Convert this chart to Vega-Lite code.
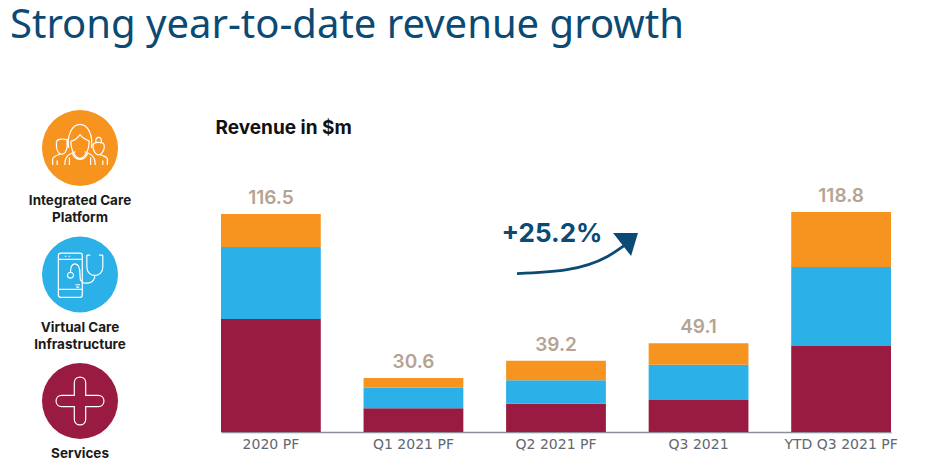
{
  "$schema": "https://vega.github.io/schema/vega-lite/v6.json",
  "padding": {"left": 0, "top": 5, "right": 0, "bottom": 0},
  "background": "white",
  "title": {"text": "Strong year-to-date revenue growth", "anchor": "start", "frame": "group", "dx": 10, "font": "Noto Sans", "fontSize": 40, "fontWeight": "normal", "color": "#0b4a75", "offset": 64},
  "config": {"view": {"stroke": null}, "concat": {"spacing": 55}},
  "datasets": {
    "revenue": [
      {"period": "2020 PF", "segment": "Services", "rank": 1, "value": 60.4, "total": 116.5},
      {"period": "2020 PF", "segment": "Virtual Care Infrastructure", "rank": 2, "value": 38.5, "total": 116.5},
      {"period": "2020 PF", "segment": "Integrated Care Platform", "rank": 3, "value": 17.6, "total": 116.5},
      {"period": "Q1 2021 PF", "segment": "Services", "rank": 1, "value": 12.7, "total": 30.6},
      {"period": "Q1 2021 PF", "segment": "Virtual Care Infrastructure", "rank": 2, "value": 11.0, "total": 30.6},
      {"period": "Q1 2021 PF", "segment": "Integrated Care Platform", "rank": 3, "value": 5.2, "total": 30.6},
      {"period": "Q2 2021 PF", "segment": "Services", "rank": 1, "value": 15.1, "total": 39.2},
      {"period": "Q2 2021 PF", "segment": "Virtual Care Infrastructure", "rank": 2, "value": 12.5, "total": 39.2},
      {"period": "Q2 2021 PF", "segment": "Integrated Care Platform", "rank": 3, "value": 10.5, "total": 39.2},
      {"period": "Q3 2021", "segment": "Services", "rank": 1, "value": 17.1, "total": 49.1},
      {"period": "Q3 2021", "segment": "Virtual Care Infrastructure", "rank": 2, "value": 18.9, "total": 49.1},
      {"period": "Q3 2021", "segment": "Integrated Care Platform", "rank": 3, "value": 11.4, "total": 49.1},
      {"period": "YTD Q3 2021 PF", "segment": "Services", "rank": 1, "value": 46.0, "total": 118.8},
      {"period": "YTD Q3 2021 PF", "segment": "Virtual Care Infrastructure", "rank": 2, "value": 42.2, "total": 118.8},
      {"period": "YTD Q3 2021 PF", "segment": "Integrated Care Platform", "rank": 3, "value": 29.4, "total": 118.8}
    ],
    "growth": [
      {"pos": 2.209, "level": 84.7},
      {"pos": 2.582, "level": 86.8},
      {"pos": 2.881, "level": 93.7},
      {"pos": 3.037, "level": 101.1}
    ],
    "growthHead": [{"pos": 3.03, "level": 102.1}],
    "growthLabel": [{"pos": 2.47, "level": 105.9, "label": "+25.2%"}],
    "segments": [
      {"segment": "Integrated Care Platform", "label": "Integrated Care\nPlatform"},
      {"segment": "Virtual Care Infrastructure", "label": "Virtual Care\nInfrastructure"},
      {"segment": "Services", "label": "Services"}
    ]
  },
  "hconcat": [
    {
      "width": 160,
      "height": 315,
      "data": {"name": "segments"},
      "encoding": {
        "y": {"field": "segment", "type": "nominal", "sort": null, "axis": null, "scale": {"type": "point", "padding": 0.245, "domain": ["Integrated Care Platform", "Virtual Care Infrastructure", "Services"]}}
      },
      "layer": [
        {
          "mark": {"type": "point", "shape": "circle", "filled": true, "opacity": 1, "size": 5776},
          "encoding": {
            "color": {"field": "segment", "type": "nominal", "legend": null, "scale": {"domain": ["Integrated Care Platform", "Virtual Care Infrastructure", "Services"], "range": ["#f79420", "#2cb0e8", "#9a1b41"]}}
          }
        },
        {
          "mark": {"type": "point", "filled": false, "opacity": 1, "size": 5776, "stroke": "white", "strokeWidth": 1.2},
          "encoding": {
            "shape": {"field": "segment", "type": "nominal", "legend": null, "scale": {
              "domain": ["Integrated Care Platform", "Virtual Care Infrastructure", "Services"],
              "range": [
                "M-0.3 0 C-0.35 -0.35 -0.2 -0.62 0 -0.62 C0.2 -0.62 0.35 -0.35 0.3 0 M-0.24 -0.18 C-0.1 -0.2 -0.05 -0.3 0 -0.35 C0.05 -0.28 0.15 -0.22 0.24 -0.18 C0.24 0.1 0.1 0.27 0 0.27 C-0.1 0.27 -0.24 0.1 -0.24 -0.18 M-0.4 0.45 C-0.4 0.2 -0.3 0.17 -0.12 0.1 M0.12 0.1 C0.3 0.17 0.4 0.2 0.4 0.45 M-0.2 0.15 C-0.1 0.35 0.1 0.35 0.2 0.15 M-0.62 -0.15 C-0.62 -0.22 -0.5 -0.26 -0.34 -0.22 L-0.34 -0.02 C-0.36 0.1 -0.42 0.16 -0.48 0.16 C-0.55 0.16 -0.6 0.1 -0.62 -0.02 Z M-0.72 0.45 L-0.72 0.3 C-0.72 0.22 -0.62 0.2 -0.52 0.16 M-0.6 0.33 L-0.6 0.45 M-0.28 0.25 L-0.28 0.45 M0.34 -0.05 C0.34 -0.18 0.64 -0.18 0.64 -0.05 C0.64 0.1 0.55 0.18 0.49 0.18 C0.43 0.18 0.34 0.1 0.34 -0.05 Z M0.42 -0.15 C0.38 -0.32 0.6 -0.32 0.56 -0.15 M0.72 0.45 L0.72 0.3 C0.72 0.22 0.62 0.22 0.54 0.18 M0.6 0.33 L0.6 0.45 M0.28 0.25 L0.28 0.45",
                "M-0.5 -0.56 L0 -0.56 C0.04 -0.56 0.06 -0.54 0.06 -0.5 L0.06 0.54 C0.06 0.58 0.04 0.6 0 0.6 L-0.5 0.6 C-0.54 0.6 -0.57 0.58 -0.57 0.54 L-0.57 -0.5 C-0.57 -0.54 -0.54 -0.56 -0.5 -0.56 Z M-0.57 -0.4 L0.06 -0.4 M-0.57 0.39 L0.06 0.39 M-0.4 -0.48 L-0.36 -0.48 M-0.3 -0.48 L-0.26 -0.48 M-0.12 0.27 L0 0.27 M-0.1 0.33 L-0.02 0.33 M0.18 -0.51 L0.18 -0.2 C0.18 0.1 0.6 0.1 0.6 -0.2 L0.6 -0.51 M0.18 -0.51 L0.27 -0.51 M0.6 -0.51 L0.5 -0.51 M0.39 0.02 C0.39 0.2 0.25 0.24 0.1 0.22 C0 0.2 0 0.1 0 0 C0 -0.15 -0.03 -0.28 -0.13 -0.28 C-0.22 -0.28 -0.25 -0.18 -0.25 -0.06 M-0.33 0.02 C-0.33 -0.08 -0.17 -0.08 -0.17 0.02 C-0.17 0.12 -0.33 0.12 -0.33 0.02 Z",
                "M-0.15 -0.48 C-0.15 -0.68 0.15 -0.68 0.15 -0.48 L0.15 -0.15 L0.48 -0.15 C0.68 -0.15 0.68 0.15 0.48 0.15 L0.15 0.15 L0.15 0.48 C0.15 0.68 -0.15 0.68 -0.15 0.48 L-0.15 0.15 L-0.48 0.15 C-0.68 0.15 -0.68 -0.15 -0.48 -0.15 L-0.15 -0.15 Z"
              ]
            }}
          }
        },
        {
          "mark": {"type": "text", "lineBreak": "\n", "baseline": "top", "align": "center", "dy": 46, "font": "Inter", "fontWeight": "bold", "fontSize": 13.5, "lineHeight": 17, "color": "#1a1a1a"},
          "encoding": {"text": {"field": "label", "type": "nominal"}}
        }
      ]
    },
    {
      "width": 670,
      "height": 315,
      "layer": [
        {
          "data": {"name": "revenue"},
          "mark": {"type": "bar", "stroke": null},
          "encoding": {
            "x": {"field": "period", "type": "nominal", "sort": null, "title": null, "scale": {"type": "band", "paddingInner": 0.3, "paddingOuter": 0},
              "axis": {"labelAngle": 0, "labelFont": "DejaVu Sans", "labelFontSize": 14, "labelColor": "#626770", "labelLimit": 200, "labelPadding": 5, "ticks": false, "domain": true, "domainColor": "#8b8f9b", "domainWidth": 1.5, "grid": false}},
            "y": {"field": "value", "type": "quantitative", "stack": "zero", "scale": {"domain": [0, 168.4], "nice": false},
              "axis": {"domain": false, "ticks": false, "labels": false, "grid": false, "title": "Revenue in $m", "titleAngle": 0, "titleAlign": "left", "titleBaseline": "middle", "titleX": -6, "titleY": 10, "titleFont": "Inter", "titleFontSize": 19, "titleFontWeight": "bold", "titleColor": "#111111"}},
            "color": {"field": "segment", "type": "nominal", "legend": null, "scale": {"domain": ["Integrated Care Platform", "Virtual Care Infrastructure", "Services"], "range": ["#f79420", "#2cb0e8", "#9a1b41"]}},
            "order": {"field": "rank", "type": "quantitative"}
          }
        },
        {
          "data": {"name": "revenue"},
          "transform": [{"aggregate": [{"op": "sum", "field": "value", "as": "top"}, {"op": "max", "field": "total", "as": "label"}], "groupby": ["period"]}],
          "mark": {"type": "text", "baseline": "middle", "dy": -16, "font": "Inter", "fontWeight": 600, "fontSize": 19, "color": "#b5a393"},
          "encoding": {
            "x": {"field": "period", "type": "nominal", "axis": null, "title": null, "scale": {"type": "band", "paddingInner": 0.3, "paddingOuter": 0, "domain": ["2020 PF", "Q1 2021 PF", "Q2 2021 PF", "Q3 2021", "YTD Q3 2021 PF"]}},
            "y": {"field": "top", "type": "quantitative"},
            "text": {"field": "label", "type": "quantitative", "format": ".1f"}
          }
        },
        {
          "data": {"name": "growth"},
          "mark": {"type": "line", "interpolate": "monotone", "color": "#0b4a75", "strokeWidth": 2.8},
          "encoding": {
            "x": {"field": "pos", "type": "quantitative", "axis": null, "scale": {"domain": [0, 5], "nice": false, "zero": false}},
            "y": {"field": "level", "type": "quantitative"}
          }
        },
        {
          "data": {"name": "growthHead"},
          "mark": {"type": "point", "filled": true, "opacity": 1, "color": "#0b4a75", "size": 900, "shape": "M0.73 -0.53 L-0.93 -0.53 L0.27 1 Z"},
          "encoding": {
            "x": {"field": "pos", "type": "quantitative", "axis": null, "scale": {"domain": [0, 5], "nice": false, "zero": false}},
            "y": {"field": "level", "type": "quantitative"}
          }
        },
        {
          "data": {"name": "growthLabel"},
          "mark": {"type": "text", "font": "Inter", "fontWeight": "bold", "fontSize": 26, "color": "#0b4a75", "baseline": "middle"},
          "encoding": {
            "x": {"field": "pos", "type": "quantitative", "axis": null, "scale": {"domain": [0, 5], "nice": false, "zero": false}},
            "y": {"field": "level", "type": "quantitative"},
            "text": {"field": "label", "type": "nominal"}
          }
        }
      ],
      "resolve": {"scale": {"x": "independent"}}
    }
  ]
}
